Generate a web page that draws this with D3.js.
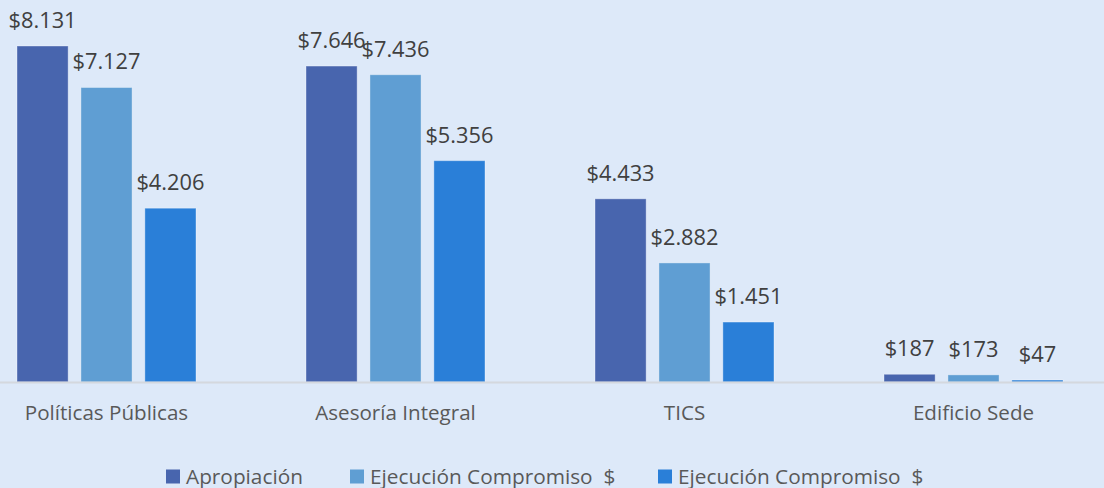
<!DOCTYPE html>
<html>
<head>
<meta charset="utf-8">
<script src="https://cdn.jsdelivr.net/npm/d3@7"></script>
<style>
  body { margin: 0; background: #dde9f9; }
  svg { display: block; font-family: "Open Sans", sans-serif; }
</style>
</head>
<body>
<svg id="chart" width="1104" height="488"></svg>
<script>
var categories = ["Políticas Públicas", "Asesoría Integral", "TICS", "Edificio Sede"];
var seriesNames = ["Apropiación", "Ejecución Compromiso  $", "Ejecución Compromiso  $"];
var apropiacion = [8131, 7646, 4433, 187];
var ejecucion1 = [7127, 7436, 2882, 173];
var ejecucion2 = [4206, 5356, 1451, 47];
var colors = ["#4865ae", "#5f9ed3", "#2a7fd8"];

var series = [apropiacion, ejecucion1, ejecucion2];

var svg = d3.select("#chart");
var W = 1104, baseY = 382;

svg.append("rect").attr("width", W).attr("height", 488).attr("fill", "#dde9f9");

var x0 = d3.scaleBand().domain(categories).range([-38, 1118]);
var x1 = d3.scaleBand().domain([0, 1, 2]).range([55, 234]).paddingInner(0.2);
var y = d3.scaleLinear().domain([0, 9000]).range([baseY, baseY - 9000 * 336 / 8131]);

var fmt = function(v) { return "$" + d3.format(",")(v).replace(/,/g, "."); };

var groups = svg.selectAll("g.cat")
  .data(categories)
  .enter().append("g")
  .attr("class", "cat")
  .attr("transform", function(d) { return "translate(" + x0(d) + ",0)"; });

groups.each(function(cat, ci) {
  var g = d3.select(this);
  series.forEach(function(vals, si) {
    var v = vals[ci];
    g.append("rect")
      .attr("x", x1(si))
      .attr("y", y(v))
      .attr("width", x1.bandwidth())
      .attr("height", baseY - y(v))
      .attr("fill", colors[si])
      .attr("stroke", "rgba(255,255,255,0.35)")
      .attr("stroke-width", 1);
    g.append("text")
      .attr("x", x1(si) + x1.bandwidth() / 2)
      .attr("y", y(v) - 18)
      .attr("text-anchor", "middle")
      .attr("font-size", 21.8)
      .attr("fill", "#404040")
      .text(fmt(v));
  });
});

// baseline
svg.append("line")
  .attr("x1", 0).attr("x2", W)
  .attr("y1", baseY + 0.5).attr("y2", baseY + 0.5)
  .attr("stroke", "#d4d8de").attr("stroke-width", 2);

// category labels
var xAxis = d3.axisBottom(x0).tickSize(0).tickPadding(0);
var ax = svg.append("g").attr("transform", "translate(0," + baseY + ")").call(xAxis);
ax.select(".domain").remove();
ax.selectAll("text")
  .attr("y", 38)
  .attr("dy", 0)
  .attr("font-family", "Open Sans, sans-serif")
  .attr("font-size", 20.6)
  .attr("fill", "#595959");

// legend
var legendX = [166, 350, 658];
var legend = svg.selectAll("g.leg")
  .data(seriesNames)
  .enter().append("g")
  .attr("class", "leg")
  .attr("transform", function(d, i) { return "translate(" + legendX[i] + ",469.5)"; });
legend.append("rect").attr("width", 14).attr("height", 14)
  .attr("fill", function(d, i) { return colors[i]; });
legend.append("text")
  .attr("x", 20).attr("y", 14)
  .attr("font-size", 20.8)
  .attr("fill", "#595959")
  .attr("xml:space", "preserve")
  .style("white-space", "pre")
  .text(function(d) { return d; });
</script>
</body>
</html>
